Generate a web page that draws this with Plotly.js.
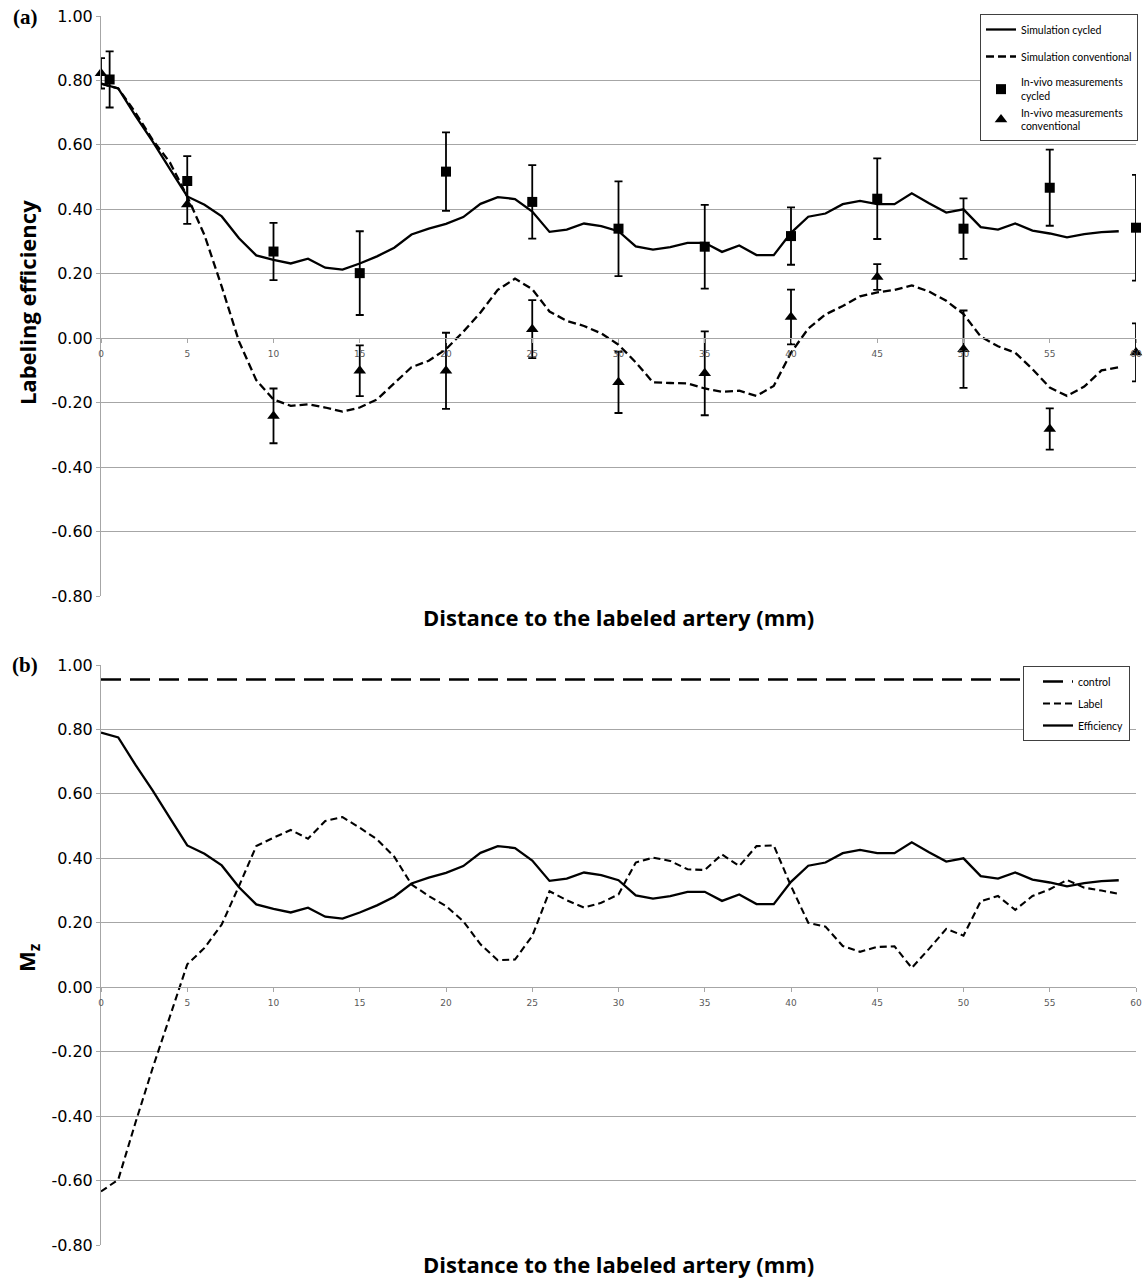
<!DOCTYPE html>
<html><head><meta charset="utf-8">
<script src="https://cdn.plot.ly/plotly-3.0.1.min.js"></script>
<style>html,body{margin:0;padding:0;background:#fff}</style>
</head><body><div id="chart" style="width:1146px;height:1280px"></div>
<script>
// ---------- data ----------
const distance = [0,1,2,3,4,5,6,7,8,9,10,11,12,13,14,15,16,17,18,19,20,21,22,23,24,25,26,27,28,29,
  30,31,32,33,34,35,36,37,38,39,40,41,42,43,44,45,46,47,48,49,50,51,52,53,54,55,56,57,58,59];

// Simulation cycled (== Efficiency in panel b)
const simCycled = [0.79,0.775,0.69,0.61,0.525,0.44,0.414,0.378,0.31,0.257,0.243,0.232,0.247,0.219,0.213,
  0.232,0.254,0.281,0.322,0.34,0.355,0.376,0.417,0.438,0.432,0.393,0.33,0.337,0.356,0.348,
  0.332,0.285,0.275,0.283,0.296,0.296,0.268,0.288,0.258,0.258,0.327,0.377,0.387,0.416,0.426,
  0.416,0.416,0.45,0.419,0.39,0.4,0.345,0.337,0.356,0.334,0.325,0.313,0.323,0.329,0.332];

const simConventional = [0.79,0.775,0.70,0.615,0.545,0.44,0.32,0.16,-0.01,-0.13,-0.19,-0.21,-0.205,-0.215,-0.228,
  -0.215,-0.19,-0.14,-0.09,-0.07,-0.034,0.02,0.08,0.15,0.185,0.152,0.083,0.054,0.038,0.015,
  -0.02,-0.075,-0.137,-0.139,-0.14,-0.156,-0.166,-0.163,-0.179,-0.148,-0.045,0.03,0.074,0.10,0.13,
  0.142,0.15,0.164,0.145,0.116,0.075,0.005,-0.025,-0.045,-0.096,-0.153,-0.179,-0.15,-0.10,-0.09];

const cycledX   = [0.5,5,10,15,20,25,30,35,40,45,50,55,60];
const cycledY   = [0.803,0.488,0.269,0.202,0.517,0.423,0.340,0.284,0.317,0.433,0.340,0.467,0.343];
const cycledErr = [0.087,0.077,0.089,0.13,0.122,0.114,0.147,0.13,0.089,0.125,0.094,0.118,0.164];

const convX   = [0,5,10,15,20,25,30,35,40,45,50,55,60];
const convY   = [0.822,0.415,-0.241,-0.101,-0.101,0.028,-0.137,-0.109,0.066,0.19,-0.034,-0.282,-0.044];
const convErr = [0.047,0.06,0.085,0.079,0.118,0.09,0.095,0.13,0.085,0.04,0.12,0.064,0.09];

// Panel b
const controlX = [0,59];
const controlMz = [0.955,0.955];
const labelMz = [-0.634,-0.597,-0.42,-0.25,-0.09,0.071,0.122,0.195,0.314,0.438,0.464,0.488,0.461,0.516,0.528,
  0.495,0.459,0.405,0.319,0.283,0.252,0.205,0.133,0.084,0.086,0.159,0.298,0.27,0.247,0.262,
  0.288,0.387,0.402,0.392,0.366,0.364,0.412,0.376,0.438,0.44,0.314,0.2,0.188,0.128,0.11,
  0.125,0.127,0.06,0.119,0.181,0.16,0.267,0.283,0.24,0.283,0.304,0.333,0.309,0.3,0.29];
const efficiencyMz = simCycled;

const xTicks = [0,5,10,15,20,25,30,35,40,45,50,55,60];
const yTicks = [-0.8,-0.6,-0.4,-0.2,0,0.2,0.4,0.6,0.8,1.0];
const yTickText = ['-0.80','-0.60','-0.40','-0.20','0.00','0.20','0.40','0.60','0.80','1.00'];

// ---------- layout geometry ----------
const W = 1146, H = 1280;
const mL = 101, mR = 9, mT = 16, mB = 35;
const plotH = H - mT - mB;
const py = p => (H - mB - p) / plotH;       // pixel y -> paper fraction
const px = p => (p - mL) / (W - mL - mR);   // pixel x -> paper fraction
const yMin = -0.8, yMax = 1.0;
const topDom = [py(596), 1];
const botDom = [0, py(665)];
const zeroPos = d => d[0] + (0 - yMin) / (yMax - yMin) * (d[1] - d[0]);

const grid = '#a6a6a6';
const xAxisBase = {
  range: [0, 60], tickvals: xTicks, ticks: 'outside', ticklen: 4, tickcolor: grid,
  showline: true, linecolor: grid, linewidth: 1, showgrid: false, zeroline: false,
  ticklabelstandoff: 3,
  tickfont: {family: 'DejaVu Sans', size: 9, color: '#595959'}, anchor: 'free', fixedrange: true
};
const yAxisBase = {
  range: [yMin, yMax], tickvals: yTicks, ticktext: yTickText, ticks: 'outside', ticklen: 4, tickcolor: grid,
  showline: true, linecolor: grid, linewidth: 1, showgrid: true, gridcolor: grid, gridwidth: 1,
  zeroline: false, tickfont: {family: 'DejaVu Sans', size: 16, color: '#000'}
};

const lineW = 2.3;
const traces = [
  {x: distance, y: simCycled, xaxis: 'x', yaxis: 'y', mode: 'lines', name: 'Simulation cycled',
   line: {color: '#000', width: lineW}, legend: 'legend', legendgroup: 'a'},
  {x: distance, y: simConventional, xaxis: 'x', yaxis: 'y', mode: 'lines', name: 'Simulation conventional',
   line: {color: '#000', width: lineW, dash: '8px,4px'}, legend: 'legend', legendgroup: 'b'},
  {x: cycledX, y: cycledY, xaxis: 'x', yaxis: 'y', mode: 'markers', name: 'In-vivo measurements<br>cycled',
   marker: {symbol: 'square', size: 10, color: '#000'}, cliponaxis: false,
   error_y: {type: 'data', array: cycledErr, visible: true, color: '#000', thickness: 1.8, width: 4},
   legend: 'legend', legendgroup: 'c'},
  {x: convX, y: convY, xaxis: 'x', yaxis: 'y', mode: 'markers', name: 'In-vivo measurements<br>conventional',
   marker: {symbol: 'triangle-up', size: 11, color: '#000'}, cliponaxis: false,
   error_y: {type: 'data', array: convErr, visible: true, color: '#000', thickness: 1.8, width: 4},
   legend: 'legend', legendgroup: 'c'},
  {x: controlX, y: controlMz, xaxis: 'x2', yaxis: 'y2', mode: 'lines', name: 'control',
   line: {color: '#000', width: 2.6, dash: '20px,9px'}, legend: 'legend2', legendgroup: 'd'},
  {x: distance, y: labelMz, xaxis: 'x2', yaxis: 'y2', mode: 'lines', name: 'Label',
   line: {color: '#000', width: 2.1, dash: '7px,4px'}, legend: 'legend2', legendgroup: 'e'},
  {x: distance, y: efficiencyMz, xaxis: 'x2', yaxis: 'y2', mode: 'lines', name: 'Efficiency',
   line: {color: '#000', width: lineW}, legend: 'legend2', legendgroup: 'f'}
];

const titleFont = {family: 'Open Sans', size: 22, color: '#000', weight: 'bold'};
const panelFont = {family: 'Liberation Serif', size: 21, color: '#000', weight: 'bold'};
const legendFont = {family: 'Lato', size: 10.5, color: '#000'};

const layout = {
  width: W, height: H,
  margin: {l: mL, r: mR, t: mT, b: mB, pad: 0},
  paper_bgcolor: '#fff', plot_bgcolor: '#fff',
  showlegend: true,
  xaxis: Object.assign({}, xAxisBase, {domain: [0, 1], position: zeroPos(topDom)}),
  yaxis: Object.assign({}, yAxisBase, {domain: topDom, anchor: 'x'}),
  xaxis2: Object.assign({}, xAxisBase, {domain: [0, 1], position: zeroPos(botDom)}),
  yaxis2: Object.assign({}, yAxisBase, {domain: botDom, anchor: 'x2'}),
  legend: {x: px(1138), xanchor: 'right', y: py(14), yanchor: 'top', bgcolor: '#fff',
           bordercolor: '#404040', borderwidth: 1, font: legendFont, tracegroupgap: 8,
           traceorder: 'grouped'},
  legend2: {x: px(1130), xanchor: 'right', y: py(666), yanchor: 'top', bgcolor: '#fff',
            bordercolor: '#404040', borderwidth: 1, font: legendFont, tracegroupgap: 3,
            traceorder: 'grouped', indentation: 14},
  annotations: [
    {text: '(a)', xref: 'paper', yref: 'paper', x: px(25), y: py(17), xanchor: 'center', yanchor: 'middle', showarrow: false, font: panelFont},
    {text: '(b)', xref: 'paper', yref: 'paper', x: px(25), y: py(665), xanchor: 'center', yanchor: 'middle', showarrow: false, font: panelFont},
    {text: 'Labeling efficiency', xref: 'paper', yref: 'paper', x: px(27), y: py(303), textangle: -90, xanchor: 'center', yanchor: 'middle', showarrow: false, font: titleFont},
    {text: 'M<sub>z</sub>', xref: 'paper', yref: 'paper', x: px(28), y: py(958), textangle: -90, xanchor: 'center', yanchor: 'middle', showarrow: false, font: titleFont},
    {text: 'Distance to the labeled artery (mm)', xref: 'paper', yref: 'paper', x: px(619), y: py(617), xanchor: 'center', yanchor: 'middle', showarrow: false, font: titleFont},
    {text: 'Distance to the labeled artery (mm)', xref: 'paper', yref: 'paper', x: px(619), y: py(1264), xanchor: 'center', yanchor: 'middle', showarrow: false, font: titleFont}
  ]
};

Plotly.newPlot('chart', traces, layout, {staticPlot: true, displayModeBar: false});
</script></body></html>
